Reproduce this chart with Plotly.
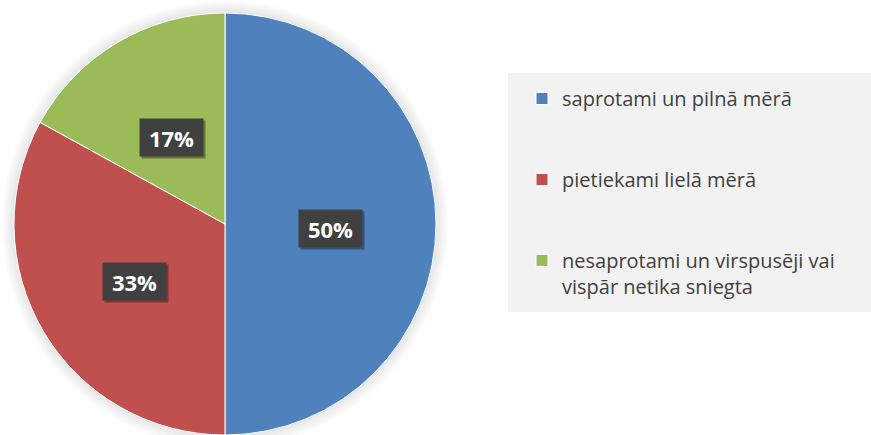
import math
import plotly.graph_objects as go

# ---- data ----
categories = ["saprotami un pilnā mērā",
              "pietiekami lielā mērā",
              "nesaprotami un virspusēji vai<br>vispār netika sniegta"]
values = [50, 33, 17]
colors = ["#4F81BD", "#C0504D", "#9BBB59"]

W, H = 871, 435
cx, cy, R = 225, 224, 211  # pie centre / radius in pixels

def px_x(x):
    return x / W

def px_y(y):
    return 1 - y / H

# legend entries padded to three lines each for even spacing
pad = "\u00a0"
legend_names = []
for c in categories:
    n = c.count("<br>") + 1
    legend_names.append(c + ("<br>" + pad) * (3 - n))

fig = go.Figure()
fig.add_trace(go.Pie(
    labels=legend_names,
    values=values,
    sort=False,
    direction="clockwise",
    rotation=0,
    marker=dict(colors=colors, line=dict(color="#FFFFFF", width=1)),
    textinfo="none",
    hoverinfo="label+percent",
    domain=dict(x=[px_x(cx - R), px_x(cx + R)], y=[px_y(cy + R), px_y(cy - R)]),
))

shapes = []
# soft shadow around the pie
for k in range(1, 7):
    r = R + 2 * k
    shapes.append(dict(type="circle", xref="paper", yref="paper",
                       x0=px_x(cx - r), x1=px_x(cx + r),
                       y0=px_y(cy + r), y1=px_y(cy - r),
                       fillcolor="rgba(0,0,0,0.016)", line=dict(width=0),
                       layer="below"))
# legend panel
shapes.append(dict(type="rect", xref="paper", yref="paper",
                   x0=px_x(508), x1=px_x(871), y0=px_y(312), y1=px_y(73),
                   fillcolor="#F2F2F2", line=dict(width=0), layer="below"))

annotations = []
total = sum(values)
cum = 0
for v in values:
    theta = 2 * math.pi * (cum + v / 2) / total
    cum += v
    lx = cx + 0.5 * R * math.sin(theta)
    ly = cy + 4 - 0.5 * R * math.cos(theta)
    txt = f"<b>{round(100 * v / total)}%</b>"
    common = dict(x=px_x(lx), y=px_y(ly), xref="paper", yref="paper",
                  xanchor="center", yanchor="middle",
                  showarrow=False, width=55, height=29, borderpad=4)
    # label box shadow (no text)
    annotations.append(dict(common, text="\u00a0", xshift=2, yshift=-2,
                            font=dict(family="Open Sans", size=22, color="rgba(0,0,0,0)"),
                            bgcolor="rgba(0,0,0,0.35)"))
    annotations.append(dict(common, text=txt,
                            font=dict(family="Open Sans", size=22, color="#FFFFFF"),
                            bgcolor="#404040"))

fig.update_layout(
    width=W, height=H,
    margin=dict(l=0, r=0, t=0, b=0),
    paper_bgcolor="#FFFFFF",
    plot_bgcolor="#FFFFFF",
    shapes=shapes,
    annotations=annotations,
    showlegend=True,
    legend=dict(x=px_x(522), y=px_y(79), xanchor="left", yanchor="top",
                bgcolor="rgba(0,0,0,0)", valign="top",
                font=dict(family="Open Sans", size=20, color="#404040"),
                tracegroupgap=0),
)

fig.write_html("out.html", config={"displayModeBar": False},
               post_script="document.body.style.margin='0';document.body.style.overflow='hidden';")
